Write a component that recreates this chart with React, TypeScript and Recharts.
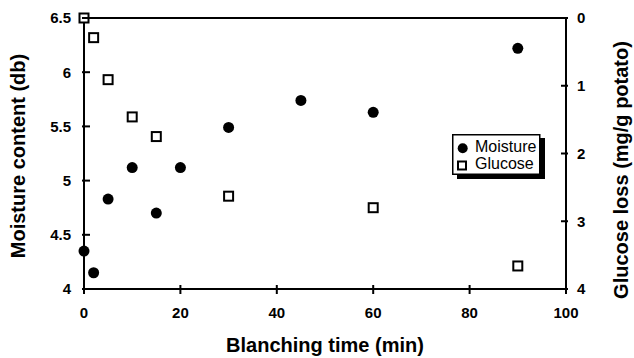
import React from 'react';
import {
	ScatterChart,
	Scatter,
	XAxis,
	YAxis,
	ReferenceLine,
	Label,
} from 'recharts';

const moistureTime = [0, 2, 5, 10, 15, 20, 30, 45, 60, 90];
const moistureValues = [4.35, 4.15, 4.83, 5.12, 4.7, 5.12, 5.49, 5.74, 5.63, 6.22];

const glucoseTime = [0, 2, 5, 10, 15, 30, 60, 90];
const glucoseValues = [0, 0.29, 0.91, 1.46, 1.75, 2.63, 2.8, 3.66];

const xTicks = [0, 20, 40, 60, 80, 100];
const moistureTicks = [4, 4.5, 5, 5.5, 6, 6.5];
const glucoseTicks = [0, 1, 2, 3, 4];

const moistureData = moistureTime.map((t, i) => ({ t, v: moistureValues[i] }));
const glucoseData = glucoseTime.map((t, i) => ({ t, v: glucoseValues[i] }));

const FONT = "'Liberation Sans', Arial, Helvetica, sans-serif";
const tickText = { fontFamily: FONT, fontSize: 15, fontWeight: 700, fill: '#000' };
const titleText = { fontFamily: FONT, fontSize: 20, fontWeight: 700, fill: '#000' };
const axisLine = { stroke: '#000', strokeWidth: 2 };

const Dot = (props: any) => <circle cx={props.cx} cy={props.cy} r={5.5} fill="#000" />;

const Box = (props: any) => (
	<rect
		x={props.cx - 4.5}
		y={props.cy - 4.5}
		width={9}
		height={9}
		fill="#fff"
		stroke="#000"
		strokeWidth={2}
	/>
);

const LeftTick = ({ x, y, payload }: any) => (
	<g>
		<line x1={x - 2} x2={x + 6} y1={y} y2={y} stroke="#000" strokeWidth={2} />
		<text x={x - 13} y={y} dy="0.36em" textAnchor="end" {...tickText}>
			{payload.value}
		</text>
	</g>
);

const RightTick = ({ x, y, payload }: any) => (
	<g>
		<line x1={x - 5} x2={x + 2} y1={y} y2={y} stroke="#000" strokeWidth={2} />
		<text x={x + 11} y={y} dy="0.36em" textAnchor="start" {...tickText}>
			{payload.value}
		</text>
	</g>
);

const BottomTick = ({ x, y, payload }: any) => (
	<g>
		<line x1={x} x2={x} y1={y - 4} y2={y + 5} stroke="#000" strokeWidth={2} />
		<text x={x} y={y + 29} textAnchor="middle" {...tickText}>
			{payload.value}
		</text>
	</g>
);

// framed legend with a drop shadow, like the original figure
function LegendBox() {
	return (
		<svg
			width={100}
			height={52}
			style={{ position: 'absolute', left: 448, top: 130 }}
			fontFamily={FONT}
			fontSize={16}
		>
			<rect x={9} y={8} width={88} height={41} fill="#000" />
			<rect x={4.75} y={4.75} width={87} height={39.5} fill="#fff" stroke="#000" strokeWidth={1.5} />
			<circle cx={14.7} cy={18.3} r={5} fill="#000" />
			<text x={27} y={22}>Moisture</text>
			<rect x={10} y={31.5} width={8} height={8} fill="#fff" stroke="#000" strokeWidth={2} />
			<text x={27} y={39}>Glucose</text>
		</svg>
	);
}

export default function App() {
	return (
		<div style={{ position: 'absolute', left: 0, top: 0, width: 634, height: 358, background: '#fff' }}>
			<ScatterChart width={634} height={358} margin={{ top: 18, right: 0, bottom: 0, left: 0 }}>
				<XAxis
					type="number"
					dataKey="t"
					domain={[0, 100]}
					ticks={xTicks}
					height={69}
					axisLine={axisLine}
					tickLine={false}
					tickSize={0}
					tickMargin={0}
					tick={BottomTick}
					interval={0}
				>
					<Label
						content={() => (
							<text x={325} y={352} textAnchor="middle" {...titleText}>
								Blanching time (min)
							</text>
						)}
					/>
				</XAxis>
				<YAxis
					yAxisId="m"
					type="number"
					dataKey="v"
					domain={[4, 6.5]}
					ticks={moistureTicks}
					width={84}
					axisLine={axisLine}
					tickLine={false}
					tickSize={0}
					tickMargin={0}
					tick={LeftTick}
					interval={0}
				>
					<Label
						content={() => (
							<text
								x={25}
								y={156}
								textAnchor="middle"
								transform="rotate(-90 25 156)"
								{...titleText}
							>
								Moisture content (db)
							</text>
						)}
					/>
				</YAxis>
				<YAxis
					yAxisId="g"
					orientation="right"
					type="number"
					dataKey="v"
					domain={[0, 4]}
					reversed
					ticks={glucoseTicks}
					width={68}
					axisLine={axisLine}
					tickLine={false}
					tickSize={0}
					tickMargin={0}
					tick={RightTick}
					interval={0}
				>
					<Label
						content={() => (
							<text
								x={628}
								y={170}
								textAnchor="middle"
								transform="rotate(-90 628 170)"
								{...titleText}
							>
								Glucose loss (mg/g potato)
							</text>
						)}
					/>
				</YAxis>
				<ReferenceLine yAxisId="m" y={6.5} stroke="#000" strokeWidth={2} />
				<Scatter
					yAxisId="m"
					data={moistureData}
					shape={Dot}
					isAnimationActive={false}
				/>
				<Scatter
					yAxisId="g"
					data={glucoseData}
					shape={Box}
					isAnimationActive={false}
				/>
			</ScatterChart>
			<LegendBox />
		</div>
	);
}
